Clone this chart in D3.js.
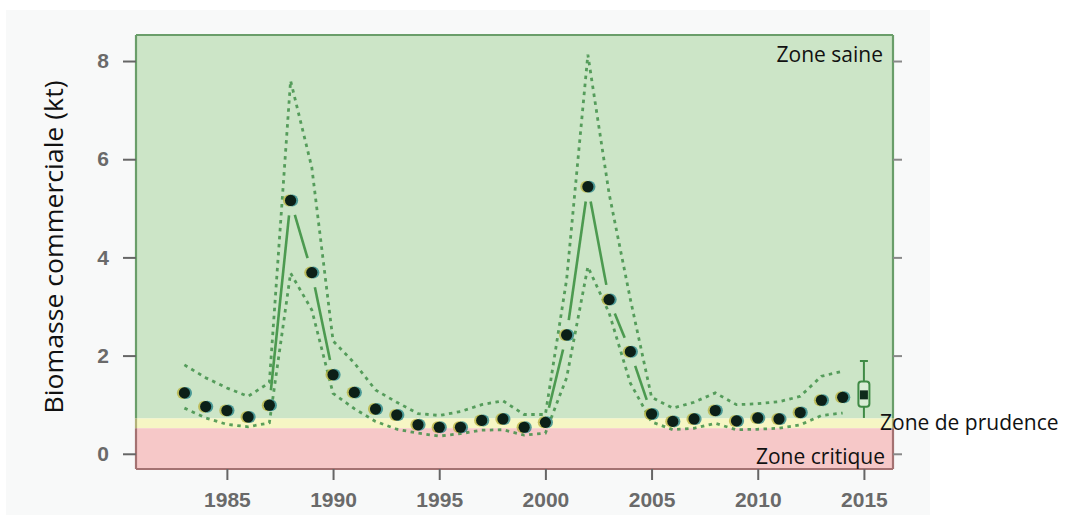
<!DOCTYPE html>
<html><head><meta charset="utf-8">
<script src="https://cdn.jsdelivr.net/npm/d3@7"></script>
<style>html,body{margin:0;padding:0;background:#fff;}svg{display:block;}</style>
</head><body>
<svg id="chart" width="1068" height="515"></svg>
<script>
// ---- data ----
const years = [1983,1984,1985,1986,1987,1988,1989,1990,1991,1992,1993,1994,1995,1996,1997,1998,1999,2000,2001,2002,2003,2004,2005,2006,2007,2008,2009,2010,2011,2012,2013,2014];
const biomass = [1.24,0.96,0.88,0.75,0.99,5.16,3.69,1.61,1.25,0.91,0.79,0.59,0.54,0.54,0.68,0.71,0.54,0.64,2.42,5.44,3.14,2.08,0.81,0.66,0.71,0.88,0.67,0.73,0.71,0.84,1.09,1.15];
const upper = [1.81,1.55,1.34,1.17,1.45,7.60,5.83,2.30,1.85,1.30,1.05,0.82,0.78,0.86,1.00,1.08,0.80,0.80,3.55,8.13,5.30,3.15,1.15,0.93,1.05,1.24,1.00,1.02,1.06,1.17,1.58,1.68];
const lower = [0.93,0.73,0.60,0.55,0.63,3.68,2.93,1.23,0.92,0.66,0.50,0.42,0.36,0.41,0.48,0.49,0.38,0.42,1.55,3.81,2.87,1.44,0.65,0.49,0.52,0.62,0.49,0.50,0.52,0.59,0.78,0.83];
const boxYear = 2015;
const boxStats = {low:0.73, q1:0.96, median:1.20, q3:1.47, high:1.89};
const xTicks = [1985,1990,1995,2000,2005,2010,2015];
const yTicks = [0,2,4,6,8];
const zoneCritical = 0.52;
const zonePrudence = 0.72;
const zoneLabels = ["Zone saine","Zone de prudence","Zone critique"];
const yLabel = "Biomasse commerciale (kt)";

// ---- layout ----
const svg = d3.select("#chart");
const L = 136, R = 893, T = 35, B = 469;
const x = d3.scaleLinear().domain([1980.72, 2016.37]).range([L, R]);
const y = d3.scaleLinear().domain([-0.31, 8.53]).range([B, T]);

// outer panel
svg.append("rect").attr("x",6).attr("y",10).attr("width",924).attr("height",505).attr("fill","#f8f9f9");

// zones
svg.append("rect").attr("x",L).attr("y",T).attr("width",R-L).attr("height",y(zonePrudence)-T).attr("fill","#cce5c7");
svg.append("rect").attr("x",L).attr("y",y(zonePrudence)).attr("width",R-L).attr("height",y(zoneCritical)-y(zonePrudence)).attr("fill","#f6f6c4");
svg.append("rect").attr("x",L).attr("y",y(zoneCritical)).attr("width",R-L).attr("height",B-y(zoneCritical)).attr("fill","#f6c8c8");

// frame (colour by zone)
const frame = svg.append("g").attr("stroke-width",2.2).attr("fill","none");
frame.append("line").attr("x1",L).attr("x2",R).attr("y1",T).attr("y2",T).attr("stroke","#6a9e6a");
frame.append("line").attr("x1",L).attr("x2",R).attr("y1",B).attr("y2",B).attr("stroke","#a47272");
[L,R].forEach(xx=>{
  frame.append("line").attr("x1",xx).attr("x2",xx).attr("y1",T).attr("y2",y(zonePrudence)).attr("stroke","#6a9e6a");
  frame.append("line").attr("x1",xx).attr("x2",xx).attr("y1",y(zonePrudence)).attr("y2",y(zoneCritical)).attr("stroke","#b2b27a");
  frame.append("line").attr("x1",xx).attr("x2",xx).attr("y1",y(zoneCritical)).attr("y2",B).attr("stroke","#a47272");
});

// axes
const tickFont = "'Liberation Sans', Arial, sans-serif";
const xAxis = svg.append("g").attr("transform",`translate(0,${B})`)
  .call(d3.axisBottom(x).tickValues(xTicks).tickFormat(d3.format("d")).tickSize(11).tickPadding(12));
xAxis.select(".domain").remove();
xAxis.selectAll("line").attr("stroke","#666").attr("stroke-width",2);
xAxis.selectAll("text").attr("font-family",tickFont).attr("font-size",21).attr("font-weight","bold").attr("fill","#6a6a6a");

const yAxis = svg.append("g").attr("transform",`translate(${L},0)`)
  .call(d3.axisLeft(y).tickValues(yTicks).tickFormat(d3.format("d")).tickSize(13).tickPadding(14));
yAxis.select(".domain").remove();
yAxis.selectAll("line").attr("stroke","#666").attr("stroke-width",2);
yAxis.selectAll("text").attr("font-family",tickFont).attr("font-size",21).attr("font-weight","bold").attr("fill","#6a6a6a");

const yAxisR = svg.append("g").attr("transform",`translate(${R},0)`)
  .call(d3.axisRight(y).tickValues(yTicks).tickFormat("").tickSize(9));
yAxisR.select(".domain").remove();
yAxisR.selectAll("line").attr("stroke","#888").attr("stroke-width",2);

// y label
svg.append("text").attr("transform",`translate(63,247) rotate(-90)`)
  .attr("text-anchor","middle").attr("font-family","'Open Sans', 'Noto Sans', sans-serif")
  .attr("font-size",26).attr("fill","#111").attr("textLength",333).attr("lengthAdjust","spacingAndGlyphs").text(yLabel);

// CI dotted lines
const pts = (arr)=>years.map((yr,i)=>[x(yr), y(arr[i])]);
const lineGen = d3.line();
[upper, lower].forEach(arr=>{
  svg.append("path").attr("d", lineGen(pts(arr))).attr("fill","none")
    .attr("stroke","#3f8f48").attr("stroke-width",2.8).attr("stroke-dasharray","3.5,4.5")
    .attr("stroke-linecap","butt").attr("opacity",0.85);
});

// central line with gaps around points (type "b")
const gap = 15;
const cp = pts(biomass);
const segs = svg.append("g").attr("stroke","#4c9a50").attr("stroke-width",2.6);
for (let i=0;i<cp.length-1;i++){
  const [x1,y1]=cp[i],[x2,y2]=cp[i+1];
  const dx=x2-x1, dy=y2-y1, len=Math.hypot(dx,dy);
  if (len <= 2*gap+2) continue;
  const ux=dx/len, uy=dy/len;
  segs.append("line").attr("x1",x1+ux*gap).attr("y1",y1+uy*gap).attr("x2",x2-ux*gap).attr("y2",y2-uy*gap);
}

// dots with slight colour fringe
const dots = svg.append("g");
cp.forEach(([cx,cy])=>{
  dots.append("circle").attr("cx",cx-1.6).attr("cy",cy).attr("r",6).attr("fill","#b8b03a").attr("opacity",0.75);
  dots.append("circle").attr("cx",cx+1.6).attr("cy",cy).attr("r",6).attr("fill","#1f7f86").attr("opacity",0.75);
  dots.append("circle").attr("cx",cx).attr("cy",cy).attr("r",5.6).attr("fill","#0c1f17");
});

// 2015 box
const bx = x(boxYear), bw = 11;
const bg = svg.append("g").attr("stroke","#3f8a45").attr("stroke-width",2).attr("fill","none");
bg.append("line").attr("x1",bx).attr("x2",bx).attr("y1",y(boxStats.high)).attr("y2",y(boxStats.q3));
bg.append("line").attr("x1",bx).attr("x2",bx).attr("y1",y(boxStats.q1)).attr("y2",y(boxStats.low));
bg.append("line").attr("x1",bx-4).attr("x2",bx+4).attr("y1",y(boxStats.high)).attr("y2",y(boxStats.high));
bg.append("rect").attr("x",bx-bw/2).attr("y",y(boxStats.q3)).attr("width",bw).attr("height",y(boxStats.q1)-y(boxStats.q3))
  .attr("rx",3).attr("fill","#d9edd5");
svg.append("rect").attr("x",bx-4).attr("y",y(boxStats.median)-4.5).attr("width",8).attr("height",9).attr("fill","#0f2a1c");

// zone labels
const zf = "'Open Sans', 'Noto Sans', sans-serif";
svg.append("text").attr("x",883).attr("y",62).attr("text-anchor","end").attr("font-family",zf).attr("font-size",21).attr("fill","#111").text(zoneLabels[0]);
svg.append("text").attr("x",880).attr("y",430).attr("font-family",zf).attr("font-size",21).attr("fill","#111").text(zoneLabels[1]);
svg.append("text").attr("x",885).attr("y",464).attr("text-anchor","end").attr("font-family",zf).attr("font-size",21).attr("fill","#111").text(zoneLabels[2]);
</script>
</body></html>
